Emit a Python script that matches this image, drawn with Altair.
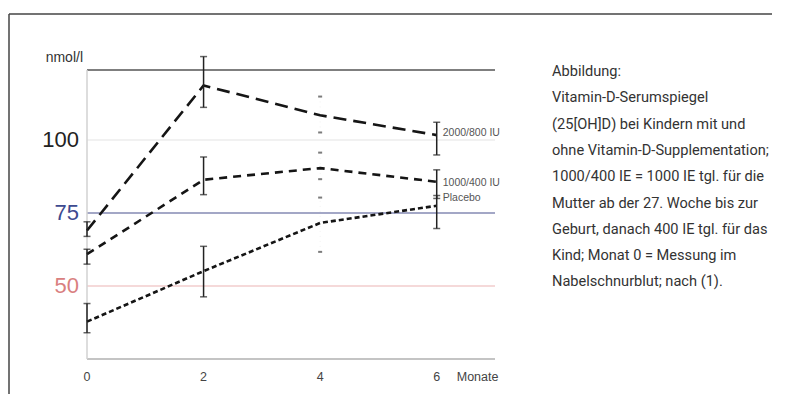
import altair as alt
import pandas as pd

# ---- data ----
months = [0, 2, 4, 6]
series_names = ["2000/800 IU", "1000/400 IU", "Placebo"]
s1 = [69.0, 118.7, 108.5, 101.7]
s1_lo = [67.0, 111.2, 102.6, 94.9]
s1_hi = [72.0, 128.6, 114.9, 106.1]
s2 = [60.9, 86.4, 90.4, 85.7]
s2_lo = [57.5, 81.3, 86.6, 80.0]
s2_hi = [62.6, 94.2, 95.7, 89.8]
s3 = [37.8, 55.1, 71.6, 77.5]
s3_lo = [34.0, 46.3, 61.7, 69.7]
s3_hi = [44.0, 63.6, 80.3, 81.0]

y_ticks = [100, 75, 50]
y_tick_colors = ["#222222", "#3d4a90", "#d98080"]
x_ticks = [0, 2, 4, 6]
x_unit = "Monate"
y_unit = "nmol/l"
series_label_y = [102.4, 85.4, 80.3]

caption = [
    "Abbildung:",
    "Vitamin-D-Serumspiegel",
    "(25[OH]D) bei Kindern mit und",
    "ohne Vitamin-D-Supplementation;",
    "1000/400 IE = 1000 IE tgl. für die",
    "Mutter ab der 27. Woche bis zur",
    "Geburt, danach 400 IE tgl. für das",
    "Kind; Monat 0 = Messung im",
    "Nabelschnurblut; nach (1).",
]

X_DOMAIN = [0, 7]
Y_DOMAIN = [25, 124]

xs = alt.Scale(domain=X_DOMAIN, nice=False, zero=False)
ys = alt.Scale(domain=Y_DOMAIN, nice=False, zero=False)

rows = []
for name, vals in zip(series_names, [s1, s2, s3]):
    for m, v in zip(months, vals):
        rows.append({"series": name, "month": m, "value": v})
lines_df = pd.DataFrame(rows)

err_rows = []
for name, lo, hi in zip(series_names, [s1_lo, s2_lo, s3_lo], [s1_hi, s2_hi, s3_hi]):
    for m, a, b in zip(months, lo, hi):
        err_rows.append({"series": name, "month": m, "lo": a, "hi": b, "faint": m == 4})
err_df = pd.DataFrame(err_rows)

X = alt.X("month:Q", scale=xs, axis=None)
Y = alt.Y("value:Q", scale=ys, axis=None)

# reference lines
ref_df = pd.DataFrame({
    "value": [100, 75, 50, Y_DOMAIN[1], Y_DOMAIN[0]],
    "col": ["#ededed", "#a3a7c6", "#f2cccc", "#555555", "#c4c4c4"],
    "w": [1.5, 2.0, 1.5, 1.6, 2.0],
})
refs = alt.Chart(ref_df).mark_rule().encode(
    y=alt.Y("value:Q", scale=ys, axis=None),
    color=alt.Color("col:N", scale=None),
    strokeWidth=alt.StrokeWidth("w:Q", scale=None),
)
left_axis = alt.Chart(pd.DataFrame({"month": [0]})).mark_rule(
    color="#d2d2d2", strokeWidth=1.5
).encode(x=X)

dash_map = {"2000/800 IU": [13, 7], "1000/400 IU": [8, 6], "Placebo": [5, 3]}
line_layers = []
for name in series_names:
    line_layers.append(
        alt.Chart(lines_df[lines_df.series == name]).mark_line(
            color="#151515", strokeWidth=2.6, strokeDash=dash_map[name]
        ).encode(x=X, y=Y)
    )

solid = err_df[~err_df.faint]
faint = err_df[err_df.faint]
err_rules = alt.Chart(solid).mark_rule(color="#222222", strokeWidth=1.5).encode(
    x=X, y=alt.Y("lo:Q", scale=ys, axis=None), y2="hi:Q"
)
err_rules_faint = alt.Chart(faint).mark_rule(
    color="#f0f0f0", strokeWidth=1, strokeDash=[1, 4]
).encode(x=X, y=alt.Y("lo:Q", scale=ys, axis=None), y2="hi:Q")

cap_df = pd.concat([
    solid.rename(columns={"lo": "cap"})[["month", "cap"]],
    solid.rename(columns={"hi": "cap"})[["month", "cap"]],
])
caps = alt.Chart(cap_df).mark_tick(
    orient="horizontal", color="#222222", thickness=1.5, size=7
).encode(x=X, y=alt.Y("cap:Q", scale=ys, axis=None))
fcap_df = pd.concat([
    faint.rename(columns={"lo": "cap"})[["month", "cap"]],
    faint.rename(columns={"hi": "cap"})[["month", "cap"]],
])
fcaps = alt.Chart(fcap_df).mark_tick(
    orient="horizontal", color="#444444", thickness=2, size=4
).encode(x=X, y=alt.Y("cap:Q", scale=ys, axis=None))

# series labels at month 6
lab_df = pd.DataFrame({"month": [6] * 3, "value": series_label_y, "t": series_names})
series_labels = alt.Chart(lab_df).mark_text(
    align="left", baseline="middle", dx=6, fontSize=10.5, color="#555555",
    font="Liberation Sans, Arial, sans-serif"
).encode(x=X, y=Y, text="t:N")

# y tick labels
yt_df = pd.DataFrame({"value": y_ticks, "t": [str(v) for v in y_ticks], "c": y_tick_colors})
ytext = alt.Chart(yt_df).mark_text(
    align="right", baseline="middle", fontSize=22, font="Liberation Sans, Arial, sans-serif"
).encode(
    x=alt.value(-8), y=Y, text="t:N", color=alt.Color("c:N", scale=None)
)
yunit = alt.Chart(alt.Data(values=[{"t": y_unit}])).mark_text(
    align="right", baseline="middle", fontSize=14, color="#333333",
    font="Liberation Sans, Arial, sans-serif"
).encode(x=alt.value(-4), y=alt.value(-12), text="t:N")

# x tick labels
xt_df = pd.DataFrame({"month": x_ticks, "t": [str(v) for v in x_ticks]})
xtext = alt.Chart(xt_df).mark_text(
    align="center", baseline="middle", fontSize=12.5, color="#444444",
    font="Liberation Sans, Arial, sans-serif"
).encode(x=X, y=alt.value(307), text="t:N")
xunit = alt.Chart(pd.DataFrame({"month": [x_ticks[-1]], "t": [x_unit]})).mark_text(
    align="left", baseline="middle", fontSize=12.5, color="#444444", dx=20,
    font="Liberation Sans, Arial, sans-serif"
).encode(x=X, y=alt.value(307), text="t:N")

# caption block
cap_text = alt.Chart(alt.Data(values=[{}])).mark_text(
    text=caption, align="left", baseline="top", fontSize=14.6, lineHeight=26.3,
    color="#333333", font="Roboto, sans-serif"
).encode(x=alt.value(465), y=alt.value(-6))

# outer frame
frame_left = alt.Chart(alt.Data(values=[{}])).mark_rule(color="#444444", strokeWidth=1.5).encode(
    x=alt.value(-78), y=alt.value(-56), y2=alt.value(400)
)
frame_top = alt.Chart(alt.Data(values=[{}])).mark_rule(color="#444444", strokeWidth=1.5).encode(
    x=alt.value(-78), x2=alt.value(800), y=alt.value(-56)
)

chart = alt.layer(
    frame_left, frame_top, refs, left_axis, err_rules_faint, *line_layers,
    err_rules, caps, fcaps, series_labels, ytext, yunit, xtext, xunit, cap_text
).properties(
    width=408, height=289,
    autosize=alt.AutoSizeParams(type="none"),
    padding={"left": 79, "top": 62, "right": 277, "bottom": 35},
    background="white",
).configure_view(stroke=None)

chart.save("out.html", embed_options={"renderer": "svg", "actions": False})
